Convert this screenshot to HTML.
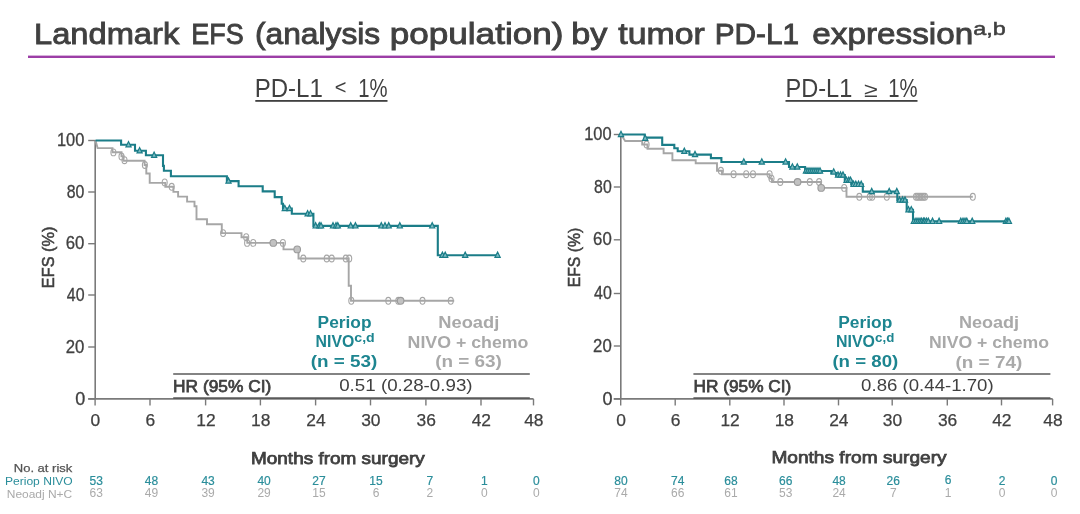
<!DOCTYPE html>
<html><head><meta charset="utf-8"><title>Landmark EFS by tumor PD-L1 expression</title>
<style>
html,body{margin:0;padding:0;background:#fff;}
body{width:1080px;height:514px;overflow:hidden;}
svg{display:block;font-family:'Liberation Sans', Arial, sans-serif;will-change:transform;}
</style></head><body>
<svg width="1080" height="514" viewBox="0 0 1080 514">
<rect width="1080" height="514" fill="#ffffff"/>
<text x="34" y="44.0" font-size="30.4" fill="#404040" font-weight="normal" stroke="#404040" stroke-width="0.9" textLength="145.23" lengthAdjust="spacingAndGlyphs" >Landmark</text>
<text x="191.3" y="44.0" font-size="30.4" fill="#404040" font-weight="normal" stroke="#404040" stroke-width="0.9" textLength="52.36" lengthAdjust="spacingAndGlyphs" >EFS</text>
<text x="255" y="44.0" font-size="30.4" fill="#404040" font-weight="normal" stroke="#404040" stroke-width="0.9" textLength="125.17" lengthAdjust="spacingAndGlyphs" >(analysis</text>
<text x="389.7" y="44.0" font-size="30.4" fill="#404040" font-weight="normal" stroke="#404040" stroke-width="0.9" textLength="173.77" lengthAdjust="spacingAndGlyphs" >population)</text>
<text x="571.3" y="44.0" font-size="30.4" fill="#404040" font-weight="normal" stroke="#404040" stroke-width="0.9" textLength="36.15" lengthAdjust="spacingAndGlyphs" >by</text>
<text x="618.3" y="44.0" font-size="30.4" fill="#404040" font-weight="normal" stroke="#404040" stroke-width="0.9" textLength="86.46" lengthAdjust="spacingAndGlyphs" >tumor</text>
<text x="714.7" y="44.0" font-size="30.4" fill="#404040" font-weight="normal" stroke="#404040" stroke-width="0.9" textLength="84.5" lengthAdjust="spacingAndGlyphs" >PD-L1</text>
<text x="812.3" y="44.0" font-size="30.4" fill="#404040" font-weight="normal" stroke="#404040" stroke-width="0.9" textLength="160.96" lengthAdjust="spacingAndGlyphs" >expression</text>
<text x="973.2" y="35.3" font-size="18" fill="#404040" font-weight="normal" stroke="#404040" stroke-width="0.5" textLength="32.51" lengthAdjust="spacingAndGlyphs" >a,b</text>
<rect x="28" y="55.6" width="1027" height="2.4" fill="#9c3ea6"/>
<text x="254.7" y="97" font-size="25.5" fill="#404040" font-weight="normal" textLength="68.09" lengthAdjust="spacingAndGlyphs" >PD-L1</text>
<text x="334.8" y="94.3" font-size="20" fill="#404040" font-weight="normal" textLength="11.69" lengthAdjust="spacingAndGlyphs" >&lt;</text>
<text x="358.2" y="97" font-size="25.5" fill="#404040" font-weight="normal" textLength="29.29" lengthAdjust="spacingAndGlyphs" >1%</text>
<rect x="255.3" y="100" width="132.2" height="1.8" fill="#404040"/>
<text x="785.5" y="97" font-size="25.5" fill="#404040" font-weight="normal" textLength="66.84" lengthAdjust="spacingAndGlyphs" >PD-L1</text>
<text x="864" y="97" font-size="21" fill="#404040" font-weight="normal" textLength="13.64" lengthAdjust="spacingAndGlyphs" >&#8805;</text>
<text x="888.2" y="97" font-size="25.5" fill="#404040" font-weight="normal" textLength="29.29" lengthAdjust="spacingAndGlyphs" >1%</text>
<rect x="785.5" y="100" width="132" height="1.8" fill="#404040"/>
<line x1="95.2" y1="140.0" x2="95.2" y2="398.9" stroke="#7a7a7a" stroke-width="1.6"/>
<line x1="88.2" y1="140.5" x2="95.2" y2="140.5" stroke="#7a7a7a" stroke-width="1.4"/>
<line x1="88.2" y1="192" x2="95.2" y2="192" stroke="#7a7a7a" stroke-width="1.4"/>
<line x1="88.2" y1="243.7" x2="95.2" y2="243.7" stroke="#7a7a7a" stroke-width="1.4"/>
<line x1="88.2" y1="295" x2="95.2" y2="295" stroke="#7a7a7a" stroke-width="1.4"/>
<line x1="88.2" y1="347" x2="95.2" y2="347" stroke="#7a7a7a" stroke-width="1.4"/>
<line x1="88.2" y1="398.9" x2="95.2" y2="398.9" stroke="#7a7a7a" stroke-width="1.4"/>
<line x1="88.2" y1="398.9" x2="533.5" y2="398.9" stroke="#7a7a7a" stroke-width="1.6"/>
<line x1="95.1" y1="398.9" x2="95.1" y2="405.4" stroke="#7a7a7a" stroke-width="1.4"/>
<line x1="150" y1="398.9" x2="150" y2="405.4" stroke="#7a7a7a" stroke-width="1.4"/>
<line x1="205.6" y1="398.9" x2="205.6" y2="405.4" stroke="#7a7a7a" stroke-width="1.4"/>
<line x1="260.4" y1="398.9" x2="260.4" y2="405.4" stroke="#7a7a7a" stroke-width="1.4"/>
<line x1="315.6" y1="398.9" x2="315.6" y2="405.4" stroke="#7a7a7a" stroke-width="1.4"/>
<line x1="370.5" y1="398.9" x2="370.5" y2="405.4" stroke="#7a7a7a" stroke-width="1.4"/>
<line x1="425.9" y1="398.9" x2="425.9" y2="405.4" stroke="#7a7a7a" stroke-width="1.4"/>
<line x1="481" y1="398.9" x2="481" y2="405.4" stroke="#7a7a7a" stroke-width="1.4"/>
<line x1="533.5" y1="398.9" x2="533.5" y2="405.4" stroke="#7a7a7a" stroke-width="1.4"/>
<line x1="620.8" y1="134.0" x2="620.8" y2="398.9" stroke="#7a7a7a" stroke-width="1.6"/>
<line x1="613.8" y1="134.5" x2="620.8" y2="134.5" stroke="#7a7a7a" stroke-width="1.4"/>
<line x1="613.8" y1="187" x2="620.8" y2="187" stroke="#7a7a7a" stroke-width="1.4"/>
<line x1="613.8" y1="239.8" x2="620.8" y2="239.8" stroke="#7a7a7a" stroke-width="1.4"/>
<line x1="613.8" y1="293.5" x2="620.8" y2="293.5" stroke="#7a7a7a" stroke-width="1.4"/>
<line x1="613.8" y1="346" x2="620.8" y2="346" stroke="#7a7a7a" stroke-width="1.4"/>
<line x1="613.8" y1="398.9" x2="620.8" y2="398.9" stroke="#7a7a7a" stroke-width="1.4"/>
<line x1="613.8" y1="398.9" x2="1052.6" y2="398.9" stroke="#7a7a7a" stroke-width="1.6"/>
<line x1="620.7" y1="398.9" x2="620.7" y2="405.4" stroke="#7a7a7a" stroke-width="1.4"/>
<line x1="675.2" y1="398.9" x2="675.2" y2="405.4" stroke="#7a7a7a" stroke-width="1.4"/>
<line x1="729.8" y1="398.9" x2="729.8" y2="405.4" stroke="#7a7a7a" stroke-width="1.4"/>
<line x1="784" y1="398.9" x2="784" y2="405.4" stroke="#7a7a7a" stroke-width="1.4"/>
<line x1="838.5" y1="398.9" x2="838.5" y2="405.4" stroke="#7a7a7a" stroke-width="1.4"/>
<line x1="892.2" y1="398.9" x2="892.2" y2="405.4" stroke="#7a7a7a" stroke-width="1.4"/>
<line x1="947.3" y1="398.9" x2="947.3" y2="405.4" stroke="#7a7a7a" stroke-width="1.4"/>
<line x1="1001.5" y1="398.9" x2="1001.5" y2="405.4" stroke="#7a7a7a" stroke-width="1.4"/>
<line x1="1052.6" y1="398.9" x2="1052.6" y2="405.4" stroke="#7a7a7a" stroke-width="1.4"/>
<text x="56.9" y="146.1" font-size="18.3" fill="#404040" font-weight="normal" stroke="#404040" stroke-width="0.3" textLength="27.38" lengthAdjust="spacingAndGlyphs" >100</text>
<text x="66.8" y="197.6" font-size="18.3" fill="#404040" font-weight="normal" stroke="#404040" stroke-width="0.3" textLength="17.62" lengthAdjust="spacingAndGlyphs" >80</text>
<text x="65.8" y="249.29999999999998" font-size="18.3" fill="#404040" font-weight="normal" stroke="#404040" stroke-width="0.3" textLength="18.65" lengthAdjust="spacingAndGlyphs" >60</text>
<text x="66.8" y="300.6" font-size="18.3" fill="#404040" font-weight="normal" stroke="#404040" stroke-width="0.3" textLength="17.72" lengthAdjust="spacingAndGlyphs" >40</text>
<text x="65.8" y="352.6" font-size="18.3" fill="#404040" font-weight="normal" stroke="#404040" stroke-width="0.3" textLength="18.65" lengthAdjust="spacingAndGlyphs" >20</text>
<text x="75.2" y="404.5" font-size="18.3" fill="#404040" font-weight="normal" stroke="#404040" stroke-width="0.3" textLength="10.0" lengthAdjust="spacingAndGlyphs" >0</text>
<text x="584.2" y="140.1" font-size="18.3" fill="#404040" font-weight="normal" stroke="#404040" stroke-width="0.3" textLength="27.38" lengthAdjust="spacingAndGlyphs" >100</text>
<text x="594.1" y="192.6" font-size="18.3" fill="#404040" font-weight="normal" stroke="#404040" stroke-width="0.3" textLength="17.62" lengthAdjust="spacingAndGlyphs" >80</text>
<text x="593.1" y="245.4" font-size="18.3" fill="#404040" font-weight="normal" stroke="#404040" stroke-width="0.3" textLength="18.65" lengthAdjust="spacingAndGlyphs" >60</text>
<text x="594.1" y="299.1" font-size="18.3" fill="#404040" font-weight="normal" stroke="#404040" stroke-width="0.3" textLength="17.72" lengthAdjust="spacingAndGlyphs" >40</text>
<text x="593.1" y="351.6" font-size="18.3" fill="#404040" font-weight="normal" stroke="#404040" stroke-width="0.3" textLength="18.65" lengthAdjust="spacingAndGlyphs" >20</text>
<text x="602.5" y="404.5" font-size="18.3" fill="#404040" font-weight="normal" stroke="#404040" stroke-width="0.3" textLength="10.0" lengthAdjust="spacingAndGlyphs" >0</text>
<text x="95.39999999999999" y="425.7" font-size="17.4" fill="#404040" font-weight="normal" text-anchor="middle" stroke="#404040" stroke-width="0.25">0</text>
<text x="150.3" y="425.7" font-size="17.4" fill="#404040" font-weight="normal" text-anchor="middle" stroke="#404040" stroke-width="0.25">6</text>
<text x="205.9" y="425.7" font-size="17.4" fill="#404040" font-weight="normal" text-anchor="middle" stroke="#404040" stroke-width="0.25">12</text>
<text x="260.7" y="425.7" font-size="17.4" fill="#404040" font-weight="normal" text-anchor="middle" stroke="#404040" stroke-width="0.25">18</text>
<text x="315.90000000000003" y="425.7" font-size="17.4" fill="#404040" font-weight="normal" text-anchor="middle" stroke="#404040" stroke-width="0.25">24</text>
<text x="370.8" y="425.7" font-size="17.4" fill="#404040" font-weight="normal" text-anchor="middle" stroke="#404040" stroke-width="0.25">30</text>
<text x="426.2" y="425.7" font-size="17.4" fill="#404040" font-weight="normal" text-anchor="middle" stroke="#404040" stroke-width="0.25">36</text>
<text x="481.3" y="425.7" font-size="17.4" fill="#404040" font-weight="normal" text-anchor="middle" stroke="#404040" stroke-width="0.25">42</text>
<text x="533.8" y="425.7" font-size="17.4" fill="#404040" font-weight="normal" text-anchor="middle" stroke="#404040" stroke-width="0.25">48</text>
<text x="621.0" y="425.7" font-size="17.4" fill="#404040" font-weight="normal" text-anchor="middle" stroke="#404040" stroke-width="0.25">0</text>
<text x="675.5" y="425.7" font-size="17.4" fill="#404040" font-weight="normal" text-anchor="middle" stroke="#404040" stroke-width="0.25">6</text>
<text x="730.0999999999999" y="425.7" font-size="17.4" fill="#404040" font-weight="normal" text-anchor="middle" stroke="#404040" stroke-width="0.25">12</text>
<text x="784.3" y="425.7" font-size="17.4" fill="#404040" font-weight="normal" text-anchor="middle" stroke="#404040" stroke-width="0.25">18</text>
<text x="838.8" y="425.7" font-size="17.4" fill="#404040" font-weight="normal" text-anchor="middle" stroke="#404040" stroke-width="0.25">24</text>
<text x="892.5" y="425.7" font-size="17.4" fill="#404040" font-weight="normal" text-anchor="middle" stroke="#404040" stroke-width="0.25">30</text>
<text x="947.5999999999999" y="425.7" font-size="17.4" fill="#404040" font-weight="normal" text-anchor="middle" stroke="#404040" stroke-width="0.25">36</text>
<text x="1001.8" y="425.7" font-size="17.4" fill="#404040" font-weight="normal" text-anchor="middle" stroke="#404040" stroke-width="0.25">42</text>
<text x="1052.8999999999999" y="425.7" font-size="17.4" fill="#404040" font-weight="normal" text-anchor="middle" stroke="#404040" stroke-width="0.25">48</text>
<text transform="translate(54.3,257.4) rotate(-90)" x="0" y="0" font-size="17" fill="#404040" stroke="#404040" stroke-width="0.55" font-weight="normal" text-anchor="middle" textLength="61.5" lengthAdjust="spacingAndGlyphs">EFS (%)</text>
<text transform="translate(580.3,257.5) rotate(-90)" x="0" y="0" font-size="17" fill="#404040" stroke="#404040" stroke-width="0.55" font-weight="normal" text-anchor="middle" textLength="59.5" lengthAdjust="spacingAndGlyphs">EFS (%)</text>
<path d="M95.5 140.5 L97.6 148.1 H112.5 V152.3 H121.5 V156.3 H123.5 V160.7 H144.6 V165 H146.3 V173.5 H149.7 V182.9 H165.3 V186.8 H173.4 V191.9 H178.1 V196.6 H187.1 V201.6 H194.5 V206.3 H196.5 V219.3 H207 V224.2 H221.8 V233.1 H241.5 V237.2 H247.3 V242.9 H283.5 V249.4 H298.5 V258.5 H348.7 V285.8 H351 V300.8 H454.2" fill="none" stroke="#a6a6a6" stroke-width="1.9" stroke-linejoin="miter"/>
<ellipse cx="113.4" cy="152.4" rx="2.5" ry="3.4" fill="none" stroke="#a6a6a6" stroke-width="1.1"/>
<ellipse cx="121.5" cy="156.5" rx="2.5" ry="3.4" fill="none" stroke="#a6a6a6" stroke-width="1.1"/>
<ellipse cx="124.5" cy="160.2" rx="2.5" ry="3.4" fill="none" stroke="#a6a6a6" stroke-width="1.1"/>
<ellipse cx="144.9" cy="165" rx="2.5" ry="3.4" fill="none" stroke="#a6a6a6" stroke-width="1.1"/>
<ellipse cx="164.7" cy="182.4" rx="2.5" ry="3.4" fill="none" stroke="#a6a6a6" stroke-width="1.1"/>
<ellipse cx="171.7" cy="186.8" rx="2.5" ry="3.4" fill="none" stroke="#a6a6a6" stroke-width="1.1"/>
<ellipse cx="223.1" cy="233.1" rx="2.5" ry="3.4" fill="none" stroke="#a6a6a6" stroke-width="1.1"/>
<ellipse cx="246.2" cy="237.2" rx="2.5" ry="3.4" fill="none" stroke="#a6a6a6" stroke-width="1.1"/>
<ellipse cx="247.1" cy="242.9" rx="2.5" ry="3.4" fill="none" stroke="#a6a6a6" stroke-width="1.1"/>
<ellipse cx="253.2" cy="242.9" rx="2.5" ry="3.4" fill="none" stroke="#a6a6a6" stroke-width="1.1"/>
<ellipse cx="282.9" cy="242.9" rx="2.5" ry="3.4" fill="none" stroke="#a6a6a6" stroke-width="1.1"/>
<ellipse cx="303.3" cy="258.5" rx="2.5" ry="3.4" fill="none" stroke="#a6a6a6" stroke-width="1.1"/>
<ellipse cx="326.7" cy="258.5" rx="2.5" ry="3.4" fill="none" stroke="#a6a6a6" stroke-width="1.1"/>
<ellipse cx="331.7" cy="258.5" rx="2.5" ry="3.4" fill="none" stroke="#a6a6a6" stroke-width="1.1"/>
<ellipse cx="345.8" cy="258.5" rx="2.5" ry="3.4" fill="none" stroke="#a6a6a6" stroke-width="1.1"/>
<ellipse cx="349.2" cy="258.5" rx="2.5" ry="3.4" fill="none" stroke="#a6a6a6" stroke-width="1.1"/>
<ellipse cx="351.3" cy="300.8" rx="2.5" ry="3.4" fill="none" stroke="#a6a6a6" stroke-width="1.1"/>
<ellipse cx="388.3" cy="300.8" rx="2.5" ry="3.4" fill="none" stroke="#a6a6a6" stroke-width="1.1"/>
<ellipse cx="398.3" cy="300.8" rx="2.5" ry="3.4" fill="none" stroke="#a6a6a6" stroke-width="1.1"/>
<ellipse cx="422.5" cy="300.8" rx="2.5" ry="3.4" fill="none" stroke="#a6a6a6" stroke-width="1.1"/>
<ellipse cx="450.8" cy="300.8" rx="2.5" ry="3.4" fill="none" stroke="#a6a6a6" stroke-width="1.1"/>
<ellipse cx="273.3" cy="242.9" rx="3.3" ry="3.4" fill="#c2c2c2" stroke="#9a9a9a" stroke-width="1.1"/>
<ellipse cx="297.2" cy="249.4" rx="3.3" ry="3.4" fill="#c2c2c2" stroke="#9a9a9a" stroke-width="1.1"/>
<ellipse cx="400.6" cy="300.8" rx="3.3" ry="3.4" fill="#c2c2c2" stroke="#9a9a9a" stroke-width="1.1"/>
<path d="M95.5 140.5 H121.1 V144.8 H135 V150.8 H145.9 V155.3 H163 V165.9 H163.9 V170.7 H170.9 V176.3 H226.9 V181.1 H238.6 V186.3 H262.7 V191.4 H274.7 V197.1 H281.7 V203.8 H283 V208.5 H291.8 V213.8 H313.4 V225.9 H437.8 V255.2 H498" fill="none" stroke="#1b7d88" stroke-width="2.1" stroke-linejoin="miter"/>
<path d="M125.90 146.90 L128.50 141.60 L131.10 146.90 Z" fill="#7dbcc3" stroke="#1b7d88" stroke-width="1.2"/>
<path d="M137.00 152.90 L139.60 147.60 L142.20 152.90 Z" fill="#7dbcc3" stroke="#1b7d88" stroke-width="1.2"/>
<path d="M151.50 157.40 L154.10 152.10 L156.70 157.40 Z" fill="#7dbcc3" stroke="#1b7d88" stroke-width="1.2"/>
<path d="M225.90 183.20 L228.50 177.90 L231.10 183.20 Z" fill="#7dbcc3" stroke="#1b7d88" stroke-width="1.2"/>
<path d="M282.20 210.60 L284.80 205.30 L287.40 210.60 Z" fill="#7dbcc3" stroke="#1b7d88" stroke-width="1.2"/>
<path d="M286.90 210.60 L289.50 205.30 L292.10 210.60 Z" fill="#7dbcc3" stroke="#1b7d88" stroke-width="1.2"/>
<path d="M305.00 215.90 L307.60 210.60 L310.20 215.90 Z" fill="#7dbcc3" stroke="#1b7d88" stroke-width="1.2"/>
<path d="M307.90 215.90 L310.50 210.60 L313.10 215.90 Z" fill="#7dbcc3" stroke="#1b7d88" stroke-width="1.2"/>
<path d="M313.00 228.00 L315.60 222.70 L318.20 228.00 Z" fill="#7dbcc3" stroke="#1b7d88" stroke-width="1.2"/>
<path d="M316.70 228.00 L319.30 222.70 L321.90 228.00 Z" fill="#7dbcc3" stroke="#1b7d88" stroke-width="1.2"/>
<path d="M318.40 228.00 L321.00 222.70 L323.60 228.00 Z" fill="#7dbcc3" stroke="#1b7d88" stroke-width="1.2"/>
<path d="M330.40 228.00 L333.00 222.70 L335.60 228.00 Z" fill="#7dbcc3" stroke="#1b7d88" stroke-width="1.2"/>
<path d="M333.40 228.00 L336.00 222.70 L338.60 228.00 Z" fill="#7dbcc3" stroke="#1b7d88" stroke-width="1.2"/>
<path d="M335.20 228.00 L337.80 222.70 L340.40 228.00 Z" fill="#7dbcc3" stroke="#1b7d88" stroke-width="1.2"/>
<path d="M348.10 228.00 L350.70 222.70 L353.30 228.00 Z" fill="#7dbcc3" stroke="#1b7d88" stroke-width="1.2"/>
<path d="M352.80 228.00 L355.40 222.70 L358.00 228.00 Z" fill="#7dbcc3" stroke="#1b7d88" stroke-width="1.2"/>
<path d="M378.70 228.00 L381.30 222.70 L383.90 228.00 Z" fill="#7dbcc3" stroke="#1b7d88" stroke-width="1.2"/>
<path d="M382.40 228.00 L385.00 222.70 L387.60 228.00 Z" fill="#7dbcc3" stroke="#1b7d88" stroke-width="1.2"/>
<path d="M386.10 228.00 L388.70 222.70 L391.30 228.00 Z" fill="#7dbcc3" stroke="#1b7d88" stroke-width="1.2"/>
<path d="M397.20 228.00 L399.80 222.70 L402.40 228.00 Z" fill="#7dbcc3" stroke="#1b7d88" stroke-width="1.2"/>
<path d="M429.60 228.00 L432.20 222.70 L434.80 228.00 Z" fill="#7dbcc3" stroke="#1b7d88" stroke-width="1.2"/>
<path d="M439.80 257.30 L442.40 252.00 L445.00 257.30 Z" fill="#7dbcc3" stroke="#1b7d88" stroke-width="1.2"/>
<path d="M442.60 257.30 L445.20 252.00 L447.80 257.30 Z" fill="#7dbcc3" stroke="#1b7d88" stroke-width="1.2"/>
<path d="M462.60 257.30 L465.20 252.00 L467.80 257.30 Z" fill="#7dbcc3" stroke="#1b7d88" stroke-width="1.2"/>
<path d="M495.00 257.30 L497.60 252.00 L500.20 257.30 Z" fill="#7dbcc3" stroke="#1b7d88" stroke-width="1.2"/>
<path d="M621 134.5 L625.2 141 H642.2 V144.5 H647.5 V148.8 H663.6 V153.2 H672.4 V160.2 H695.7 V163.2 H717 V170.8 H722 V174.2 H769.6 V178.6 H772 V182 H820.8 V187.9 H846.5 V196.8 H972.8" fill="none" stroke="#a6a6a6" stroke-width="1.9" stroke-linejoin="miter"/>
<ellipse cx="646.6" cy="144.5" rx="2.5" ry="3.4" fill="none" stroke="#a6a6a6" stroke-width="1.1"/>
<ellipse cx="720.9" cy="170.8" rx="2.5" ry="3.4" fill="none" stroke="#a6a6a6" stroke-width="1.1"/>
<ellipse cx="733.6" cy="174.2" rx="2.5" ry="3.4" fill="none" stroke="#a6a6a6" stroke-width="1.1"/>
<ellipse cx="746.2" cy="174.2" rx="2.5" ry="3.4" fill="none" stroke="#a6a6a6" stroke-width="1.1"/>
<ellipse cx="753" cy="174.2" rx="2.5" ry="3.4" fill="none" stroke="#a6a6a6" stroke-width="1.1"/>
<ellipse cx="769.6" cy="174.2" rx="2.5" ry="3.4" fill="none" stroke="#a6a6a6" stroke-width="1.1"/>
<ellipse cx="771.5" cy="178.6" rx="2.5" ry="3.4" fill="none" stroke="#a6a6a6" stroke-width="1.1"/>
<ellipse cx="780.3" cy="182" rx="2.5" ry="3.4" fill="none" stroke="#a6a6a6" stroke-width="1.1"/>
<ellipse cx="809.8" cy="182" rx="2.5" ry="3.4" fill="none" stroke="#a6a6a6" stroke-width="1.1"/>
<ellipse cx="819.1" cy="182" rx="2.5" ry="3.4" fill="none" stroke="#a6a6a6" stroke-width="1.1"/>
<ellipse cx="844.2" cy="187.9" rx="2.5" ry="3.4" fill="none" stroke="#a6a6a6" stroke-width="1.1"/>
<ellipse cx="859.3" cy="196.8" rx="2.5" ry="3.4" fill="none" stroke="#a6a6a6" stroke-width="1.1"/>
<ellipse cx="869.8" cy="196.8" rx="2.5" ry="3.4" fill="none" stroke="#a6a6a6" stroke-width="1.1"/>
<ellipse cx="872.2" cy="196.8" rx="2.5" ry="3.4" fill="none" stroke="#a6a6a6" stroke-width="1.1"/>
<ellipse cx="886.8" cy="196.8" rx="2.5" ry="3.4" fill="none" stroke="#a6a6a6" stroke-width="1.1"/>
<ellipse cx="916" cy="196.8" rx="2.5" ry="3.4" fill="none" stroke="#a6a6a6" stroke-width="1.1"/>
<ellipse cx="917.5" cy="196.8" rx="2.5" ry="3.4" fill="none" stroke="#a6a6a6" stroke-width="1.1"/>
<ellipse cx="919" cy="196.8" rx="2.5" ry="3.4" fill="none" stroke="#a6a6a6" stroke-width="1.1"/>
<ellipse cx="920.5" cy="196.8" rx="2.5" ry="3.4" fill="none" stroke="#a6a6a6" stroke-width="1.1"/>
<ellipse cx="922" cy="196.8" rx="2.5" ry="3.4" fill="none" stroke="#a6a6a6" stroke-width="1.1"/>
<ellipse cx="923.5" cy="196.8" rx="2.5" ry="3.4" fill="none" stroke="#a6a6a6" stroke-width="1.1"/>
<ellipse cx="925" cy="196.8" rx="2.5" ry="3.4" fill="none" stroke="#a6a6a6" stroke-width="1.1"/>
<ellipse cx="972.8" cy="196.8" rx="2.5" ry="3.4" fill="none" stroke="#a6a6a6" stroke-width="1.1"/>
<ellipse cx="797.6" cy="182" rx="3.3" ry="3.4" fill="#c2c2c2" stroke="#9a9a9a" stroke-width="1.1"/>
<ellipse cx="821.2" cy="187.9" rx="3.3" ry="3.4" fill="#c2c2c2" stroke="#9a9a9a" stroke-width="1.1"/>
<path d="M621 134.5 H644.7 V137.6 H662.2 V144.9 H674.3 V148.3 H677.7 V151.3 H689.4 V154.6 H710.9 V158.1 H721.4 V162 H789 V167 H805.1 V171 H831.3 V173 H836 V175.1 H844.8 V180.3 H851.2 V184.4 H862.8 V191.6 H897.3 V200.1 H906.7 V209.7 H913 V221.4 H1009" fill="none" stroke="#1b7d88" stroke-width="2.1" stroke-linejoin="miter"/>
<path d="M618.40 136.60 L621.00 131.30 L623.60 136.60 Z" fill="#7dbcc3" stroke="#1b7d88" stroke-width="1.2"/>
<path d="M642.60 140.40 L645.20 135.10 L647.80 140.40 Z" fill="#7dbcc3" stroke="#1b7d88" stroke-width="1.2"/>
<path d="M681.70 153.40 L684.30 148.10 L686.90 153.40 Z" fill="#7dbcc3" stroke="#1b7d88" stroke-width="1.2"/>
<path d="M692.40 156.70 L695.00 151.40 L697.60 156.70 Z" fill="#7dbcc3" stroke="#1b7d88" stroke-width="1.2"/>
<path d="M741.20 164.10 L743.80 158.80 L746.40 164.10 Z" fill="#7dbcc3" stroke="#1b7d88" stroke-width="1.2"/>
<path d="M759.20 164.10 L761.80 158.80 L764.40 164.10 Z" fill="#7dbcc3" stroke="#1b7d88" stroke-width="1.2"/>
<path d="M783.00 164.10 L785.60 158.80 L788.20 164.10 Z" fill="#7dbcc3" stroke="#1b7d88" stroke-width="1.2"/>
<path d="M789.80 169.10 L792.40 163.80 L795.00 169.10 Z" fill="#7dbcc3" stroke="#1b7d88" stroke-width="1.2"/>
<path d="M794.70 169.10 L797.30 163.80 L799.90 169.10 Z" fill="#7dbcc3" stroke="#1b7d88" stroke-width="1.2"/>
<path d="M803.40 173.10 L806.00 167.80 L808.60 173.10 Z" fill="#7dbcc3" stroke="#1b7d88" stroke-width="1.2"/>
<path d="M805.40 173.10 L808.00 167.80 L810.60 173.10 Z" fill="#7dbcc3" stroke="#1b7d88" stroke-width="1.2"/>
<path d="M807.40 173.10 L810.00 167.80 L812.60 173.10 Z" fill="#7dbcc3" stroke="#1b7d88" stroke-width="1.2"/>
<path d="M809.40 173.10 L812.00 167.80 L814.60 173.10 Z" fill="#7dbcc3" stroke="#1b7d88" stroke-width="1.2"/>
<path d="M811.40 173.10 L814.00 167.80 L816.60 173.10 Z" fill="#7dbcc3" stroke="#1b7d88" stroke-width="1.2"/>
<path d="M813.40 173.10 L816.00 167.80 L818.60 173.10 Z" fill="#7dbcc3" stroke="#1b7d88" stroke-width="1.2"/>
<path d="M815.40 173.10 L818.00 167.80 L820.60 173.10 Z" fill="#7dbcc3" stroke="#1b7d88" stroke-width="1.2"/>
<path d="M817.40 173.10 L820.00 167.80 L822.60 173.10 Z" fill="#7dbcc3" stroke="#1b7d88" stroke-width="1.2"/>
<path d="M831.10 174.10 L833.70 168.80 L836.30 174.10 Z" fill="#7dbcc3" stroke="#1b7d88" stroke-width="1.2"/>
<path d="M835.40 177.20 L838.00 171.90 L840.60 177.20 Z" fill="#7dbcc3" stroke="#1b7d88" stroke-width="1.2"/>
<path d="M837.90 177.20 L840.50 171.90 L843.10 177.20 Z" fill="#7dbcc3" stroke="#1b7d88" stroke-width="1.2"/>
<path d="M840.40 177.20 L843.00 171.90 L845.60 177.20 Z" fill="#7dbcc3" stroke="#1b7d88" stroke-width="1.2"/>
<path d="M843.90 182.40 L846.50 177.10 L849.10 182.40 Z" fill="#7dbcc3" stroke="#1b7d88" stroke-width="1.2"/>
<path d="M846.20 182.40 L848.80 177.10 L851.40 182.40 Z" fill="#7dbcc3" stroke="#1b7d88" stroke-width="1.2"/>
<path d="M847.90 182.40 L850.50 177.10 L853.10 182.40 Z" fill="#7dbcc3" stroke="#1b7d88" stroke-width="1.2"/>
<path d="M850.90 186.50 L853.50 181.20 L856.10 186.50 Z" fill="#7dbcc3" stroke="#1b7d88" stroke-width="1.2"/>
<path d="M853.20 186.50 L855.80 181.20 L858.40 186.50 Z" fill="#7dbcc3" stroke="#1b7d88" stroke-width="1.2"/>
<path d="M855.90 186.50 L858.50 181.20 L861.10 186.50 Z" fill="#7dbcc3" stroke="#1b7d88" stroke-width="1.2"/>
<path d="M858.60 186.50 L861.20 181.20 L863.80 186.50 Z" fill="#7dbcc3" stroke="#1b7d88" stroke-width="1.2"/>
<path d="M869.10 193.70 L871.70 188.40 L874.30 193.70 Z" fill="#7dbcc3" stroke="#1b7d88" stroke-width="1.2"/>
<path d="M886.60 193.70 L889.20 188.40 L891.80 193.70 Z" fill="#7dbcc3" stroke="#1b7d88" stroke-width="1.2"/>
<path d="M894.20 193.70 L896.80 188.40 L899.40 193.70 Z" fill="#7dbcc3" stroke="#1b7d88" stroke-width="1.2"/>
<path d="M896.90 202.20 L899.50 196.90 L902.10 202.20 Z" fill="#7dbcc3" stroke="#1b7d88" stroke-width="1.2"/>
<path d="M899.90 202.20 L902.50 196.90 L905.10 202.20 Z" fill="#7dbcc3" stroke="#1b7d88" stroke-width="1.2"/>
<path d="M902.40 202.20 L905.00 196.90 L907.60 202.20 Z" fill="#7dbcc3" stroke="#1b7d88" stroke-width="1.2"/>
<path d="M905.90 211.80 L908.50 206.50 L911.10 211.80 Z" fill="#7dbcc3" stroke="#1b7d88" stroke-width="1.2"/>
<path d="M908.70 211.80 L911.30 206.50 L913.90 211.80 Z" fill="#7dbcc3" stroke="#1b7d88" stroke-width="1.2"/>
<path d="M911.20 223.50 L913.80 218.20 L916.40 223.50 Z" fill="#7dbcc3" stroke="#1b7d88" stroke-width="1.2"/>
<path d="M913.40 223.50 L916.00 218.20 L918.60 223.50 Z" fill="#7dbcc3" stroke="#1b7d88" stroke-width="1.2"/>
<path d="M915.40 223.50 L918.00 218.20 L920.60 223.50 Z" fill="#7dbcc3" stroke="#1b7d88" stroke-width="1.2"/>
<path d="M917.40 223.50 L920.00 218.20 L922.60 223.50 Z" fill="#7dbcc3" stroke="#1b7d88" stroke-width="1.2"/>
<path d="M919.10 223.50 L921.70 218.20 L924.30 223.50 Z" fill="#7dbcc3" stroke="#1b7d88" stroke-width="1.2"/>
<path d="M920.90 223.50 L923.50 218.20 L926.10 223.50 Z" fill="#7dbcc3" stroke="#1b7d88" stroke-width="1.2"/>
<path d="M922.10 223.50 L924.70 218.20 L927.30 223.50 Z" fill="#7dbcc3" stroke="#1b7d88" stroke-width="1.2"/>
<path d="M923.90 223.50 L926.50 218.20 L929.10 223.50 Z" fill="#7dbcc3" stroke="#1b7d88" stroke-width="1.2"/>
<path d="M925.70 223.50 L928.30 218.20 L930.90 223.50 Z" fill="#7dbcc3" stroke="#1b7d88" stroke-width="1.2"/>
<path d="M929.90 223.50 L932.50 218.20 L935.10 223.50 Z" fill="#7dbcc3" stroke="#1b7d88" stroke-width="1.2"/>
<path d="M936.50 223.50 L939.10 218.20 L941.70 223.50 Z" fill="#7dbcc3" stroke="#1b7d88" stroke-width="1.2"/>
<path d="M958.20 223.50 L960.80 218.20 L963.40 223.50 Z" fill="#7dbcc3" stroke="#1b7d88" stroke-width="1.2"/>
<path d="M960.40 223.50 L963.00 218.20 L965.60 223.50 Z" fill="#7dbcc3" stroke="#1b7d88" stroke-width="1.2"/>
<path d="M962.40 223.50 L965.00 218.20 L967.60 223.50 Z" fill="#7dbcc3" stroke="#1b7d88" stroke-width="1.2"/>
<path d="M964.20 223.50 L966.80 218.20 L969.40 223.50 Z" fill="#7dbcc3" stroke="#1b7d88" stroke-width="1.2"/>
<path d="M969.60 223.50 L972.20 218.20 L974.80 223.50 Z" fill="#7dbcc3" stroke="#1b7d88" stroke-width="1.2"/>
<path d="M1003.30 223.50 L1005.90 218.20 L1008.50 223.50 Z" fill="#7dbcc3" stroke="#1b7d88" stroke-width="1.2"/>
<path d="M1004.80 223.50 L1007.40 218.20 L1010.00 223.50 Z" fill="#7dbcc3" stroke="#1b7d88" stroke-width="1.2"/>
<path d="M1006.30 223.50 L1008.90 218.20 L1011.50 223.50 Z" fill="#7dbcc3" stroke="#1b7d88" stroke-width="1.2"/>
<text x="317.6" y="327.5" font-size="16" fill="#1d8590" font-weight="bold" textLength="53.96" lengthAdjust="spacingAndGlyphs" >Periop</text>
<text x="315.6" y="346.6" font-size="16" fill="#1d8590" font-weight="bold" textLength="38.72" lengthAdjust="spacingAndGlyphs" >NIVO</text>
<text x="354.3" y="341.5" font-size="12" fill="#1d8590" font-weight="bold" textLength="20.43" lengthAdjust="spacingAndGlyphs" >c,d</text>
<text x="310.8" y="367" font-size="16" fill="#1d8590" font-weight="bold" textLength="66.54" lengthAdjust="spacingAndGlyphs" >(n = 53)</text>
<text x="438.3" y="328" font-size="16" fill="#a9a9a9" font-weight="bold" textLength="60.95" lengthAdjust="spacingAndGlyphs" >Neoadj</text>
<text x="407.6" y="348" font-size="16" fill="#a9a9a9" font-weight="bold" textLength="120.82" lengthAdjust="spacingAndGlyphs" >NIVO + chemo</text>
<text x="435.2" y="367.4" font-size="16" fill="#a9a9a9" font-weight="bold" textLength="66.74" lengthAdjust="spacingAndGlyphs" >(n = 63)</text>
<text x="838.3" y="327.5" font-size="16" fill="#1d8590" font-weight="bold" textLength="53.96" lengthAdjust="spacingAndGlyphs" >Periop</text>
<text x="836" y="346.6" font-size="16" fill="#1d8590" font-weight="bold" textLength="38.93" lengthAdjust="spacingAndGlyphs" >NIVO</text>
<text x="875.1" y="341.5" font-size="12" fill="#1d8590" font-weight="bold" textLength="19.2" lengthAdjust="spacingAndGlyphs" >c,d</text>
<text x="832.4" y="367" font-size="16" fill="#1d8590" font-weight="bold" textLength="65.92" lengthAdjust="spacingAndGlyphs" >(n = 80)</text>
<text x="959" y="327.9" font-size="16" fill="#a9a9a9" font-weight="bold" textLength="60.13" lengthAdjust="spacingAndGlyphs" >Neoadj</text>
<text x="929" y="347.9" font-size="16" fill="#a9a9a9" font-weight="bold" textLength="120.03" lengthAdjust="spacingAndGlyphs" >NIVO + chemo</text>
<text x="955.5" y="367.6" font-size="16" fill="#a9a9a9" font-weight="bold" textLength="66.74" lengthAdjust="spacingAndGlyphs" >(n = 74)</text>
<line x1="173.2" y1="374" x2="529.8" y2="374" stroke="#5a5a5a" stroke-width="1.6"/>
<line x1="173.2" y1="398.2" x2="529.8" y2="398.2" stroke="#5a5a5a" stroke-width="1.8"/>
<text x="173.1" y="391.7" font-size="16.5" fill="#404040" font-weight="normal" stroke="#404040" stroke-width="0.75" textLength="98.2" lengthAdjust="spacingAndGlyphs" >HR (95% CI)</text>
<text x="339.2" y="391.3" font-size="16.5" fill="#404040" font-weight="normal" textLength="133.42" lengthAdjust="spacingAndGlyphs" >0.51 (0.28-0.93)</text>
<line x1="693.4" y1="374" x2="1050.4" y2="374" stroke="#5a5a5a" stroke-width="1.6"/>
<line x1="693.4" y1="398.2" x2="1050.4" y2="398.2" stroke="#5a5a5a" stroke-width="1.8"/>
<text x="693.5" y="391.7" font-size="16.5" fill="#404040" font-weight="normal" stroke="#404040" stroke-width="0.75" textLength="97.79" lengthAdjust="spacingAndGlyphs" >HR (95% CI)</text>
<text x="861.1" y="391.3" font-size="16.5" fill="#404040" font-weight="normal" textLength="132.61" lengthAdjust="spacingAndGlyphs" >0.86 (0.44-1.70)</text>
<text x="13.8" y="471.9" font-size="11.5" fill="#555555" font-weight="normal" stroke="#555555" stroke-width="0.25" textLength="58.47" lengthAdjust="spacingAndGlyphs" >No. at risk</text>
<text x="4.9" y="485.4" font-size="11.5" fill="#2b8e9b" font-weight="normal" textLength="67.85" lengthAdjust="spacingAndGlyphs" >Periop NIVO</text>
<text x="6.8" y="498.1" font-size="11.5" fill="#aaaaaa" font-weight="normal" textLength="65.41" lengthAdjust="spacingAndGlyphs" >Neoadj N+C</text>
<text x="251" y="464.4" font-size="16.8" fill="#404040" font-weight="normal" stroke="#404040" stroke-width="0.75" textLength="173.79" lengthAdjust="spacingAndGlyphs" >Months from surgery</text>
<text x="771.4" y="463.2" font-size="16.8" fill="#404040" font-weight="normal" stroke="#404040" stroke-width="0.75" textLength="175.2" lengthAdjust="spacingAndGlyphs" >Months from surgery</text>
<text x="96.3" y="485.4" font-size="12" fill="#2b8e9b" font-weight="normal" text-anchor="middle" stroke="#2b8e9b" stroke-width="0.2">53</text>
<text x="96.3" y="497.4" font-size="12" fill="#aaaaaa" font-weight="normal" text-anchor="middle" >63</text>
<text x="151.4" y="485.4" font-size="12" fill="#2b8e9b" font-weight="normal" text-anchor="middle" stroke="#2b8e9b" stroke-width="0.2">48</text>
<text x="151.4" y="497.4" font-size="12" fill="#aaaaaa" font-weight="normal" text-anchor="middle" >49</text>
<text x="208.1" y="485.4" font-size="12" fill="#2b8e9b" font-weight="normal" text-anchor="middle" stroke="#2b8e9b" stroke-width="0.2">43</text>
<text x="208.1" y="497.4" font-size="12" fill="#aaaaaa" font-weight="normal" text-anchor="middle" >39</text>
<text x="264.1" y="485.4" font-size="12" fill="#2b8e9b" font-weight="normal" text-anchor="middle" stroke="#2b8e9b" stroke-width="0.2">40</text>
<text x="264.1" y="497.4" font-size="12" fill="#aaaaaa" font-weight="normal" text-anchor="middle" >29</text>
<text x="319" y="485.4" font-size="12" fill="#2b8e9b" font-weight="normal" text-anchor="middle" stroke="#2b8e9b" stroke-width="0.2">27</text>
<text x="319" y="497.4" font-size="12" fill="#aaaaaa" font-weight="normal" text-anchor="middle" >15</text>
<text x="376" y="485.4" font-size="12" fill="#2b8e9b" font-weight="normal" text-anchor="middle" stroke="#2b8e9b" stroke-width="0.2">15</text>
<text x="376" y="497.4" font-size="12" fill="#aaaaaa" font-weight="normal" text-anchor="middle" >6</text>
<text x="429.8" y="485.4" font-size="12" fill="#2b8e9b" font-weight="normal" text-anchor="middle" stroke="#2b8e9b" stroke-width="0.2">7</text>
<text x="429.8" y="497.4" font-size="12" fill="#aaaaaa" font-weight="normal" text-anchor="middle" >2</text>
<text x="484.4" y="485.4" font-size="12" fill="#2b8e9b" font-weight="normal" text-anchor="middle" stroke="#2b8e9b" stroke-width="0.2">1</text>
<text x="484.4" y="497.4" font-size="12" fill="#aaaaaa" font-weight="normal" text-anchor="middle" >0</text>
<text x="536.4" y="485.4" font-size="12" fill="#2b8e9b" font-weight="normal" text-anchor="middle" stroke="#2b8e9b" stroke-width="0.2">0</text>
<text x="536.4" y="497.4" font-size="12" fill="#aaaaaa" font-weight="normal" text-anchor="middle" >0</text>
<text x="620.9" y="485.4" font-size="12" fill="#2b8e9b" font-weight="normal" text-anchor="middle" stroke="#2b8e9b" stroke-width="0.2">80</text>
<text x="620.9" y="497.4" font-size="12" fill="#aaaaaa" font-weight="normal" text-anchor="middle" >74</text>
<text x="677.8" y="485.4" font-size="12" fill="#2b8e9b" font-weight="normal" text-anchor="middle" stroke="#2b8e9b" stroke-width="0.2">74</text>
<text x="677.8" y="497.4" font-size="12" fill="#aaaaaa" font-weight="normal" text-anchor="middle" >66</text>
<text x="731" y="485.4" font-size="12" fill="#2b8e9b" font-weight="normal" text-anchor="middle" stroke="#2b8e9b" stroke-width="0.2">68</text>
<text x="731" y="497.4" font-size="12" fill="#aaaaaa" font-weight="normal" text-anchor="middle" >61</text>
<text x="785.8" y="485.4" font-size="12" fill="#2b8e9b" font-weight="normal" text-anchor="middle" stroke="#2b8e9b" stroke-width="0.2">66</text>
<text x="785.8" y="497.4" font-size="12" fill="#aaaaaa" font-weight="normal" text-anchor="middle" >53</text>
<text x="839.1" y="485.4" font-size="12" fill="#2b8e9b" font-weight="normal" text-anchor="middle" stroke="#2b8e9b" stroke-width="0.2">48</text>
<text x="839.1" y="497.4" font-size="12" fill="#aaaaaa" font-weight="normal" text-anchor="middle" >24</text>
<text x="893.3" y="485.4" font-size="12" fill="#2b8e9b" font-weight="normal" text-anchor="middle" stroke="#2b8e9b" stroke-width="0.2">26</text>
<text x="893.3" y="497.4" font-size="12" fill="#aaaaaa" font-weight="normal" text-anchor="middle" >7</text>
<text x="948" y="483.59999999999997" font-size="12" fill="#2b8e9b" font-weight="normal" text-anchor="middle" stroke="#2b8e9b" stroke-width="0.2">6</text>
<text x="948" y="497.4" font-size="12" fill="#aaaaaa" font-weight="normal" text-anchor="middle" >1</text>
<text x="1002.2" y="485.4" font-size="12" fill="#2b8e9b" font-weight="normal" text-anchor="middle" stroke="#2b8e9b" stroke-width="0.2">2</text>
<text x="1002.2" y="497.4" font-size="12" fill="#aaaaaa" font-weight="normal" text-anchor="middle" >0</text>
<text x="1054.2" y="485.4" font-size="12" fill="#2b8e9b" font-weight="normal" text-anchor="middle" stroke="#2b8e9b" stroke-width="0.2">0</text>
<text x="1054.2" y="497.4" font-size="12" fill="#aaaaaa" font-weight="normal" text-anchor="middle" >0</text>
</svg>
</body></html>
